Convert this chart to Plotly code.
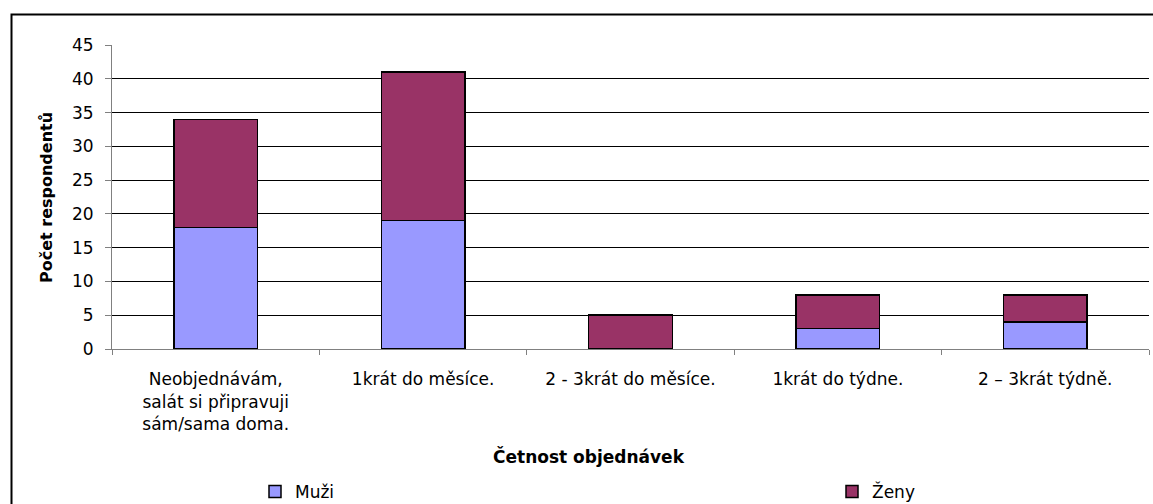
import plotly.graph_objects as go

# Order frequency categories (x axis) and respondent counts per gender
categories = [
    "Neobjednávám,<br>salát si připravuji<br>sám/sama doma.",
    "1krát do měsíce.",
    "2 - 3krát do měsíce.",
    "1krát do týdne.",
    "2 – 3krát týdně.",
]
muzi = [18, 19, 0, 3, 4]
zeny = [16, 22, 5, 5, 4]
y_ticks = [0, 5, 10, 15, 20, 25, 30, 35, 40, 45]

FONT = "DejaVu Sans"
W, H = 1153, 504
L, R, T, B = 112, 4, 45, 155
PW, PH = W - L - R, H - T - B


def px_x(p):
    return (p - L) / PW


def px_y(p):
    return (H - B - p) / PH


fig = go.Figure()
fig.add_trace(go.Bar(
    name="Muži", x=categories, y=muzi, legend="legend",
    marker=dict(color="#9999FF", line=dict(color="#000000", width=1.5)),
))
fig.add_trace(go.Bar(
    name="Ženy", x=categories, y=zeny, legend="legend2",
    marker=dict(color="#993366", line=dict(color="#000000", width=1.5)),
))

legend_common = dict(
    orientation="h", xanchor="left", yanchor="middle",
    y=px_y(492),
    font=dict(family=FONT, size=17, color="#000000"),
    bgcolor="rgba(0,0,0,0)",
)

fig.update_layout(
    width=W, height=H,
    margin=dict(l=L, r=R, t=T, b=B, pad=0, autoexpand=False),
    barmode="stack",
    bargap=0.597,
    plot_bgcolor="white",
    paper_bgcolor="white",
    font=dict(family=FONT, size=17, color="#000000"),
    showlegend=True,
    legend=dict(x=px_x(255), **legend_common),
    legend2=dict(x=px_x(832), **legend_common),
    xaxis=dict(
        showline=True, linecolor="#808080", linewidth=1,
        ticks="outside", tickson="boundaries", ticklen=5,
        tickcolor="#808080", tickwidth=1,
        ticklabelstandoff=15,
        showgrid=False, zeroline=False, automargin=False,
        tickfont=dict(family=FONT, size=17, color="#000000"),
        fixedrange=True,
    ),
    yaxis=dict(
        range=[0, 45], tickvals=y_ticks,
        showline=True, linecolor="#808080", linewidth=1,
        ticks="outside", ticklen=6, tickcolor="#808080", tickwidth=1,
        ticklabelstandoff=8, automargin=False,
        showgrid=True, gridcolor="#000000", gridwidth=1,
        zeroline=False,
        tickfont=dict(family=FONT, size=17, color="#000000"),
        fixedrange=True,
    ),
    annotations=[
        dict(text="<b>Četnost objednávek</b>", xref="paper", yref="paper",
             x=px_x(588.5), y=px_y(457), xanchor="center", yanchor="middle",
             showarrow=False, font=dict(family=FONT, size=17, color="#000000")),
        dict(text="<b>Počet respondentů</b>", xref="paper", yref="paper",
             x=px_x(46), y=px_y(198), xanchor="center", yanchor="middle",
             textangle=-90, showarrow=False,
             font=dict(family=FONT, size=16, color="#000000")),
    ],
    shapes=[
        dict(type="rect", xref="paper", yref="paper",
             x0=px_x(11.5), x1=px_x(1160), y0=px_y(520), y1=px_y(14.5),
             line=dict(color="#000000", width=2), fillcolor="rgba(0,0,0,0)",
             layer="below"),
    ],
)

fig.write_html("out.html")
